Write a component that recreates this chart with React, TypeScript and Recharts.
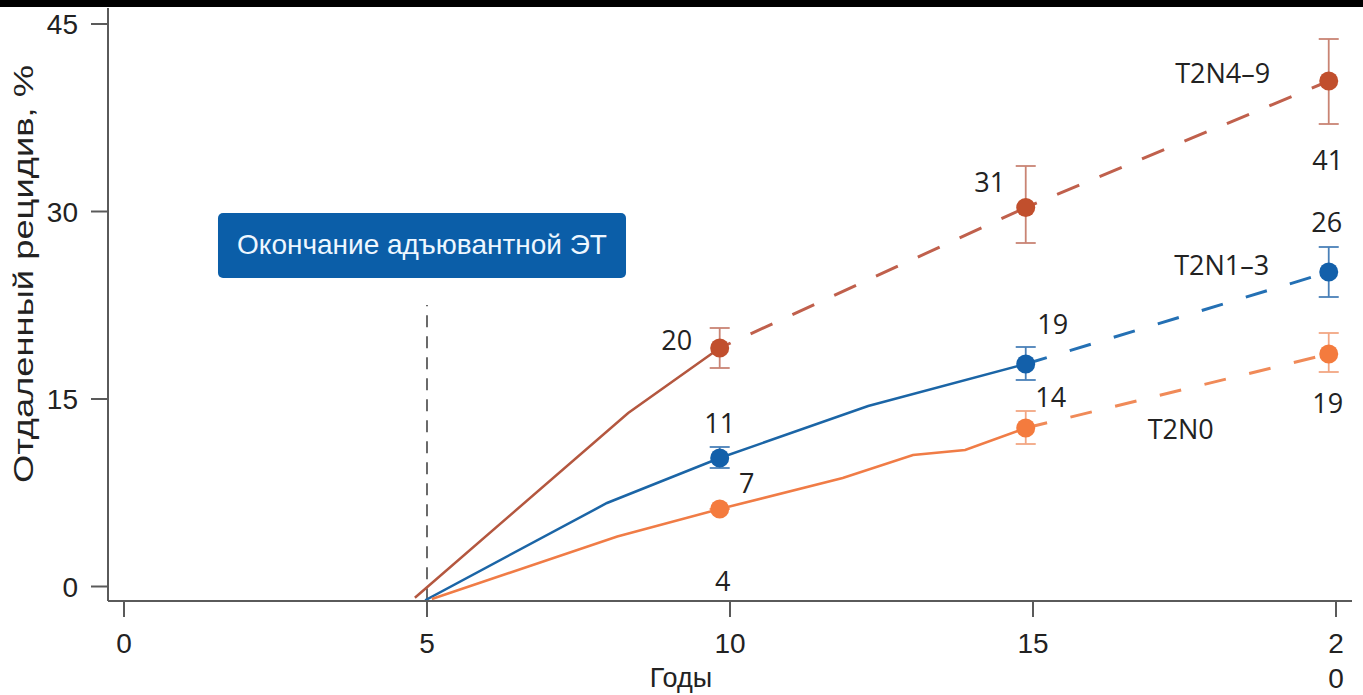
import React from 'react';
import {
  ComposedChart,
  Line,
  Scatter,
  ErrorBar,
  XAxis,
  YAxis,
  ReferenceLine,
  ReferenceArea,
} from 'recharts';

// ---------- data ----------
const xTicks = [0, 5, 10, 15, 20];
const yTicks = [0, 15, 30, 45];

const summaryYears = [9.83, 14.88, 19.88];

const t2n49Values = [19.08, 30.32, 40.44];
const t2n49Low = [17.48, 27.48, 37.0];
const t2n49High = [20.68, 33.64, 43.8];
const t2n49Labels = ['20', '31', '41'];

const t2n13Values = [10.28, 17.8, 25.16];
const t2n13Low = [9.48, 16.52, 23.16];
const t2n13High = [11.16, 19.16, 27.16];
const t2n13Labels = ['11', '19', '26'];

const t2n0Values = [6.2, 12.68, 18.6];
const t2n0Low = [6.2, 11.4, 17.16];
const t2n0High = [6.2, 14.04, 20.28];
const t2n0Labels = ['7', '14', '19'];
const t2n0ExtraLabel = '4';

const seriesNames = ['T2N4–9', 'T2N1–3', 'T2N0'];

const t2n49SolidYears = [4.8, 8.32, 9.83];
const t2n49SolidValues = [-0.9, 13.88, 19.08];
const t2n13SolidYears = [4.97, 7.97, 9.83, 12.28, 14.88];
const t2n13SolidValues = [-1.1, 6.68, 10.28, 14.44, 17.8];
const t2n0SolidYears = [5.08, 8.14, 9.83, 11.86, 13.02, 13.88, 14.88];
const t2n0SolidValues = [-1.0, 4.0, 6.2, 8.68, 10.52, 10.92, 12.68];

const endOfTherapyYear = 5;
const endOfTherapyTop = 22.52;
const annotationText = 'Окончание адъювантной ЭТ';
const annotationYears = [1.551, 8.284];
const annotationValues = [24.68, 29.88];
const xAxisTitle = 'Годы';
const yAxisTitle = 'Отдаленный рецидив, %';

// ---------- helpers ----------
const toPts = (xs: number[], ys: number[]) => xs.map((x, i) => ({ x, y: ys[i] }));
const summaryPts = (vals: number[], lo: number[], hi: number[], labels: string[]) =>
  summaryYears.map((x, i) => ({
    x,
    y: vals[i],
    err: [vals[i] - lo[i], hi[i] - vals[i]],
    label: labels[i],
    idx: i,
  }));
const segment = (vals: number[], a: number, b: number) => [
  { x: summaryYears[a], y: vals[a] },
  { x: summaryYears[b], y: vals[b] },
];

const X_DOMAIN: [number, number] = [-0.264, 20.264];
const Y_DOMAIN: [number, number] = [-1.16, 46.28];

const TICK_FONT = '"Liberation Sans", Arial, sans-serif';
const LABEL_FONT = '"Open Sans", "Noto Sans", sans-serif';
const AXIS_COLOR = '#5a5a5a';
const TEXT_COLOR = '#222222';

const RED = { marker: '#c14f2d', line: '#b4573f', dash: '#c0604c', err: '#c98474' };
const BLUE = { marker: '#1360aa', line: '#1b65a6', dash: '#2470b4', err: '#4a80b8' };
const ORANGE = { marker: '#f47b3e', line: '#f07c46', dash: '#f08a58', err: '#f2a683' };

type Off = [number, number];

const makeMarker = (
  color: string,
  offsets: Off[],
  name: string,
  nameOffset: Off,
  extra?: { text: string; idx: number; off: Off }
) => {
  return (props: any) => {
    const { cx, cy, payload } = props;
    const i = payload?.idx ?? 0;
    const off = offsets[i] || [0, 0];
    const txt = (key: string, t: string, o: Off) => (
      <text
        key={key}
        x={cx + o[0]}
        y={cy + o[1]}
        dy="0.36em"
        textAnchor="middle"
        fontSize={27}
        fontFamily={LABEL_FONT}
        fill={TEXT_COLOR}
      >
        {t}
      </text>
    );
    return (
      <g>
        <circle cx={cx} cy={cy} r={9.5} fill={color} />
        {txt('v', payload.label, off)}
        {i === summaryYears.length - 1 ? txt('n', name, nameOffset) : null}
        {extra && extra.idx === i ? txt('e', extra.text, extra.off) : null}
      </g>
    );
  };
};

const redShape = makeMarker(RED.marker, [[-43, -8], [-36, -25], [-1, 79]], seriesNames[0], [-106, -8]);
const blueShape = makeMarker(BLUE.marker, [[0, -35], [27, -40], [-2, -50]], seriesNames[1], [-107, -7]);
const orangeShape = makeMarker(
  ORANGE.marker,
  [[27, -26], [25, -31], [-1, 49]],
  seriesNames[2],
  [-148, 75],
  { text: t2n0ExtraLabel, idx: 0, off: [3, 72] }
);

const XTick = (props: any) => {
  const { x, y, payload } = props;
  const v = payload.value;
  const s = String(v);
  const lines = v === xTicks[xTicks.length - 1] ? s.split('') : [s];
  return (
    <text x={x} y={y} textAnchor="middle" fontSize={28} fontFamily={TICK_FONT} fill={TEXT_COLOR}>
      {lines.map((l, i) => (
        <tspan key={i} x={x} dy={i === 0 ? '0.71em' : 35}>
          {l}
        </tspan>
      ))}
    </text>
  );
};

const YTick = (props: any) => {
  const { x, y, payload } = props;
  return (
    <text x={x} y={y} dy="0.36em" textAnchor="end" fontSize={28} fontFamily={TICK_FONT} fill={TEXT_COLOR}>
      {String(payload.value)}
    </text>
  );
};

const XTitle = () => (
  <text x={681} y={687} textAnchor="middle" fontSize={27} fontFamily={TICK_FONT} fill={TEXT_COLOR}>
    {xAxisTitle}
  </text>
);

const YTitle = () => (
  <text
    transform="translate(33, 274) rotate(-90)"
    x={0}
    y={0}
    textAnchor="middle"
    fontSize={27}
    fontFamily={TICK_FONT}
    fill={TEXT_COLOR}
    textLength={418}
    lengthAdjust="spacingAndGlyphs"
  >
    {yAxisTitle}
  </text>
);

const AnnotationShape = (props: any) => {
  const { x, y, width, height } = props;
  return (
    <g>
      <rect x={x} y={y} width={width} height={height} rx={5} ry={5} fill="#0b5ea8" />
      <text
        x={x + width / 2}
        y={y + height / 2 - 2}
        dy="0.36em"
        textAnchor="middle"
        fontSize={28}
        fontFamily={TICK_FONT}
        fill="#eef7ff"
      >
        {annotationText}
      </text>
    </g>
  );
};

export default function App() {
  return (
    <div
      style={{
        position: 'absolute',
        left: 0,
        top: 0,
        width: 1363,
        height: 695,
        background: '#ffffff',
        overflow: 'hidden',
      }}
    >
      <ComposedChart width={1363} height={695} margin={{ top: 8, right: 11, bottom: 0, left: 0 }}>
        <XAxis
          type="number"
          dataKey="x"
          domain={X_DOMAIN}
          allowDataOverflow
          ticks={xTicks}
          interval={0}
          height={94}
          tickSize={16}
          tickMargin={16}
          stroke={AXIS_COLOR}
          strokeWidth={2}
          tickLine={{ stroke: AXIS_COLOR, strokeWidth: 2 }}
          tick={<XTick />}
          label={XTitle}
        />
        <YAxis
          type="number"
          dataKey="y"
          domain={Y_DOMAIN}
          allowDataOverflow
          ticks={yTicks}
          interval={0}
          width={108}
          tickSize={17}
          tickMargin={13}
          stroke={AXIS_COLOR}
          strokeWidth={2}
          tickLine={{ stroke: AXIS_COLOR, strokeWidth: 2 }}
          tick={<YTick />}
          label={YTitle}
        />

        <ReferenceArea
          x1={annotationYears[0]}
          x2={annotationYears[1]}
          y1={annotationValues[0]}
          y2={annotationValues[1]}
          shape={AnnotationShape}
          ifOverflow="visible"
        />
        <ReferenceLine
          segment={[
            { x: endOfTherapyYear, y: -1.1 },
            { x: endOfTherapyYear, y: endOfTherapyTop },
          ]}
          stroke="#3a3a3a"
          strokeWidth={1.5}
          strokeDasharray="12 9"
        />

        <Line data={toPts(t2n49SolidYears, t2n49SolidValues)} dataKey="y" type="linear" stroke={RED.line} strokeWidth={2.5} dot={false} activeDot={false} isAnimationActive={false} />
        <Line data={toPts(t2n13SolidYears, t2n13SolidValues)} dataKey="y" type="linear" stroke={BLUE.line} strokeWidth={2.5} dot={false} activeDot={false} isAnimationActive={false} />
        <Line data={toPts(t2n0SolidYears, t2n0SolidValues)} dataKey="y" type="linear" stroke={ORANGE.line} strokeWidth={2.5} dot={false} activeDot={false} isAnimationActive={false} />

        <Line data={segment(t2n49Values, 0, 1)} dataKey="y" type="linear" stroke={RED.dash} strokeWidth={3} strokeDasharray="24 22" strokeDashoffset={12} dot={false} activeDot={false} isAnimationActive={false} />
        <Line data={segment(t2n49Values, 1, 2)} dataKey="y" type="linear" stroke={RED.dash} strokeWidth={3} strokeDasharray="24 22" strokeDashoffset={12} dot={false} activeDot={false} isAnimationActive={false} />
        <Line data={segment(t2n13Values, 1, 2)} dataKey="y" type="linear" stroke={BLUE.dash} strokeWidth={3} strokeDasharray="22 24" dot={false} activeDot={false} isAnimationActive={false} />
        <Line data={segment(t2n0Values, 1, 2)} dataKey="y" type="linear" stroke={ORANGE.dash} strokeWidth={3} strokeDasharray="22 24" dot={false} activeDot={false} isAnimationActive={false} />

        <Scatter data={summaryPts(t2n49Values, t2n49Low, t2n49High, t2n49Labels)} shape={redShape} isAnimationActive={false}>
          <ErrorBar dataKey="err" direction="y" width={10} stroke={RED.err} strokeWidth={1.8} isAnimationActive={false} />
        </Scatter>
        <Scatter data={summaryPts(t2n13Values, t2n13Low, t2n13High, t2n13Labels)} shape={blueShape} isAnimationActive={false}>
          <ErrorBar dataKey="err" direction="y" width={10} stroke={BLUE.err} strokeWidth={1.8} isAnimationActive={false} />
        </Scatter>
        <Scatter data={summaryPts(t2n0Values, t2n0Low, t2n0High, t2n0Labels)} shape={orangeShape} isAnimationActive={false}>
          <ErrorBar dataKey="err" direction="y" width={10} stroke={ORANGE.err} strokeWidth={1.8} isAnimationActive={false} />
        </Scatter>
      </ComposedChart>
      <div style={{ position: 'absolute', left: 0, top: 0, width: 1363, height: 7, background: '#000' }} />
    </div>
  );
}
